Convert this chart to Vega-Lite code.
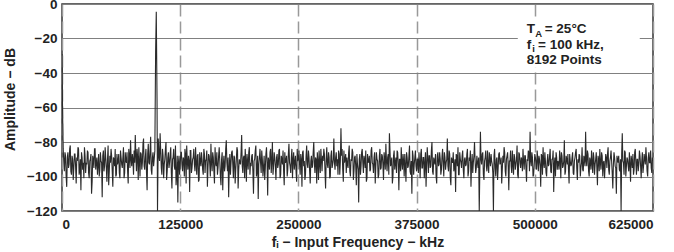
{
  "$schema": "https://vega.github.io/schema/vega-lite/v6.json",
  "width": 591,
  "height": 207,
  "autosize": {"type": "none"},
  "padding": {"left": 62, "top": 4, "right": 21, "bottom": 41},
  "background": "white",
  "config": {
    "view": {"stroke": "#333333", "strokeWidth": 1.5},
    "font": "Liberation Sans",
    "axis": {
      "labelFont": "Liberation Sans", "labelFontWeight": "bold", "labelFontSize": 13.5, "labelColor": "#222222",
      "titleFont": "Liberation Sans", "titleFontWeight": "bold", "titleFontSize": 14, "titleColor": "#222222",
      "domain": false, "ticks": false, "gridOpacity": 1
    },
    "axisX": {"gridDash": [12, 5], "gridColor": "#999999", "gridWidth": 1.5, "labelPadding": 6, "titlePadding": 5},
    "axisY": {"gridColor": "#808080", "gridWidth": 1, "labelPadding": 5, "titlePadding": 9}
  },
  "datasets": {
    "spectrum": [
      {"f":0,"a":-29},{"f":600,"a":-62},{"f":1250,"a":-84},{"f":2500,"a":-97},{"f":3750,"a":-88},{"f":5000,"a":-106},{"f":6250,"a":-86},{"f":7500,"a":-93},{"f":8750,"a":-82},{"f":10000,"a":-99},{"f":11250,"a":-90},{"f":12500,"a":-95},
      {"f":13750,"a":-87},{"f":15000,"a":-104},{"f":16250,"a":-91},{"f":17500,"a":-84},{"f":18750,"a":-96},{"f":20000,"a":-108},{"f":21250,"a":-89},{"f":22500,"a":-92},{"f":23750,"a":-83},{"f":25000,"a":-98},
      {"f":26250,"a":-93},{"f":27500,"a":-86},{"f":28750,"a":-101},{"f":30000,"a":-90},{"f":31250,"a":-110},{"f":32500,"a":-88},{"f":33750,"a":-95},{"f":35000,"a":-84},{"f":36250,"a":-92},{"f":37500,"a":-99},
      {"f":38750,"a":-87},{"f":40000,"a":-96},{"f":41250,"a":-91},{"f":42500,"a":-112},{"f":43750,"a":-85},{"f":45000,"a":-94},{"f":46250,"a":-89},{"f":47500,"a":-103},{"f":48750,"a":-82},{"f":50000,"a":-97},
      {"f":51250,"a":-92},{"f":52500,"a":-88},{"f":53750,"a":-106},{"f":55000,"a":-90},{"f":56250,"a":-84},{"f":57500,"a":-99},{"f":58750,"a":-93},{"f":60000,"a":-87},{"f":61250,"a":-101},{"f":62500,"a":-89},
      {"f":63750,"a":-95},{"f":65000,"a":-83},{"f":66250,"a":-98},{"f":67500,"a":-91},{"f":68750,"a":-86},{"f":70000,"a":-104},{"f":71250,"a":-88},{"f":72500,"a":-79},{"f":73750,"a":-94},{"f":75000,"a":-90},
      {"f":76250,"a":-85},{"f":77500,"a":-76},{"f":78750,"a":-97},{"f":80000,"a":-89},{"f":81250,"a":-83},{"f":82500,"a":-100},{"f":83750,"a":-87},{"f":85000,"a":-92},{"f":86250,"a":-78},{"f":87500,"a":-96},
      {"f":88750,"a":-84},{"f":90000,"a":-108},{"f":91250,"a":-81},{"f":92500,"a":-93},{"f":93750,"a":-77},{"f":95000,"a":-99},{"f":96250,"a":-86},{"f":97500,"a":-90},
      {"f":98200,"a":-85},{"f":99000,"a":-28},{"f":99700,"a":-4.5},{"f":100500,"a":-55},{"f":101000,"a":-120},{"f":101800,"a":-78},
      {"f":102500,"a":-88},{"f":103750,"a":-75},{"f":105000,"a":-95},{"f":106250,"a":-84},{"f":107500,"a":-101},{"f":108750,"a":-90},{"f":110000,"a":-80},{"f":111250,"a":-97},{"f":112500,"a":-86},
      {"f":113750,"a":-92},{"f":115000,"a":-83},{"f":116250,"a":-107},{"f":117500,"a":-89},{"f":118750,"a":-94},{"f":120000,"a":-82},{"f":121250,"a":-100},{"f":122500,"a":-115},{"f":123750,"a":-88},{"f":125000,"a":-93},
      {"f":126250,"a":-86},{"f":127500,"a":-97},{"f":128750,"a":-90},{"f":130000,"a":-84},{"f":131250,"a":-104},{"f":132500,"a":-91},{"f":133750,"a":-88},{"f":135000,"a":-109},{"f":136250,"a":-85},{"f":137500,"a":-95},
      {"f":138750,"a":-89},{"f":140000,"a":-93},{"f":141250,"a":-83},{"f":142500,"a":-99},{"f":143750,"a":-87},{"f":145000,"a":-102},{"f":146250,"a":-91},{"f":147500,"a":-86},{"f":148750,"a":-96},{"f":150000,"a":-84},
      {"f":151250,"a":-98},{"f":152500,"a":-90},{"f":153750,"a":-106},{"f":155000,"a":-87},{"f":156250,"a":-93},{"f":157500,"a":-81},{"f":158750,"a":-97},{"f":160000,"a":-89},{"f":161250,"a":-104},{"f":162500,"a":-92},
      {"f":163750,"a":-86},{"f":165000,"a":-95},{"f":166250,"a":-83},{"f":167500,"a":-100},{"f":168750,"a":-90},{"f":170000,"a":-108},{"f":171250,"a":-88},{"f":172500,"a":-94},{"f":173750,"a":-79},{"f":175000,"a":-97},
      {"f":176250,"a":-112},{"f":177500,"a":-87},{"f":178750,"a":-92},{"f":180000,"a":-85},{"f":181250,"a":-101},{"f":182500,"a":-89},{"f":183750,"a":-96},{"f":185000,"a":-83},{"f":186250,"a":-107},{"f":187500,"a":-90},
      {"f":188750,"a":-93},{"f":190000,"a":-76},{"f":191250,"a":-98},{"f":192500,"a":-88},{"f":193750,"a":-84},{"f":195000,"a":-103},{"f":196250,"a":-91},{"f":197500,"a":-86},{"f":198750,"a":-99},{"f":200000,"a":-94},
      {"f":201250,"a":-87},{"f":202500,"a":-110},{"f":203750,"a":-90},{"f":205000,"a":-82},{"f":206250,"a":-97},{"f":207500,"a":-113},{"f":208750,"a":-89},{"f":210000,"a":-92},{"f":211250,"a":-85},{"f":212500,"a":-100},
      {"f":213750,"a":-88},{"f":215000,"a":-95},{"f":216250,"a":-83},{"f":217500,"a":-111},{"f":218750,"a":-91},{"f":220000,"a":-86},{"f":221250,"a":-98},{"f":222500,"a":-80},{"f":223750,"a":-94},{"f":225000,"a":-89},
      {"f":226250,"a":-102},{"f":227500,"a":-87},{"f":228750,"a":-93},{"f":230000,"a":-84},{"f":231250,"a":-99},{"f":232500,"a":-90},{"f":233750,"a":-85},{"f":235000,"a":-105},{"f":236250,"a":-92},{"f":237500,"a":-88},
      {"f":238750,"a":-96},{"f":240000,"a":-81},{"f":241250,"a":-94},{"f":242500,"a":-89},{"f":243750,"a":-101},{"f":245000,"a":-86},{"f":246250,"a":-92},{"f":247500,"a":-97},{"f":248750,"a":-84},{"f":250000,"a":-90},
      {"f":251250,"a":-93},{"f":252500,"a":-87},{"f":253750,"a":-106},{"f":255000,"a":-85},{"f":256250,"a":-91},{"f":257500,"a":-99},{"f":258750,"a":-82},{"f":260000,"a":-95},{"f":261250,"a":-89},{"f":262500,"a":-104},
      {"f":263750,"a":-88},{"f":265000,"a":-94},{"f":266250,"a":-80},{"f":267500,"a":-98},{"f":268750,"a":-90},{"f":270000,"a":-86},{"f":271250,"a":-102},{"f":272500,"a":-92},{"f":273750,"a":-84},{"f":275000,"a":-97},
      {"f":276250,"a":-91},{"f":277500,"a":-87},{"f":278750,"a":-107},{"f":280000,"a":-83},{"f":281250,"a":-95},{"f":282500,"a":-89},{"f":283750,"a":-100},{"f":285000,"a":-85},{"f":286250,"a":-93},{"f":287500,"a":-78},
      {"f":288750,"a":-96},{"f":290000,"a":-86},{"f":291250,"a":-90},{"f":292500,"a":-85},{"f":293750,"a":-99},{"f":295000,"a":-72},{"f":296250,"a":-84},{"f":297500,"a":-103},{"f":298750,"a":-92},{"f":300000,"a":-87},
      {"f":301250,"a":-89},{"f":302500,"a":-95},{"f":303750,"a":-82},{"f":305000,"a":-100},{"f":306250,"a":-91},{"f":307500,"a":-86},{"f":308750,"a":-97},{"f":310000,"a":-88},{"f":311250,"a":-105},{"f":312500,"a":-93},
      {"f":313750,"a":-115},{"f":315000,"a":-87},{"f":316250,"a":-94},{"f":317500,"a":-84},{"f":318750,"a":-98},{"f":320000,"a":-90},{"f":321250,"a":-85},{"f":322500,"a":-101},{"f":323750,"a":-92},{"f":325000,"a":-88},
      {"f":326250,"a":-96},{"f":327500,"a":-83},{"f":328750,"a":-93},{"f":330000,"a":-89},{"f":331250,"a":-104},{"f":332500,"a":-86},{"f":333750,"a":-91},{"f":335000,"a":-99},{"f":336250,"a":-84},{"f":337500,"a":-95},
      {"f":338750,"a":-88},{"f":340000,"a":-102},{"f":341250,"a":-90},{"f":342500,"a":-81},{"f":343750,"a":-97},{"f":345000,"a":-87},{"f":346250,"a":-75},{"f":347500,"a":-94},{"f":348750,"a":-89},{"f":350000,"a":-100},
      {"f":351250,"a":-85},{"f":352500,"a":-92},{"f":353750,"a":-98},{"f":355000,"a":-86},{"f":356250,"a":-108},{"f":357500,"a":-90},{"f":358750,"a":-83},{"f":360000,"a":-96},{"f":361250,"a":-91},{"f":362500,"a":-87},
      {"f":363750,"a":-103},{"f":365000,"a":-89},{"f":366250,"a":-94},{"f":367500,"a":-82},{"f":368750,"a":-99},{"f":370000,"a":-110},{"f":371250,"a":-88},{"f":372500,"a":-93},{"f":373750,"a":-85},{"f":375000,"a":-97},
      {"f":376250,"a":-90},{"f":377500,"a":-86},{"f":378750,"a":-101},{"f":380000,"a":-84},{"f":381250,"a":-95},{"f":382500,"a":-89},{"f":383750,"a":-92},{"f":385000,"a":-106},{"f":386250,"a":-83},{"f":387500,"a":-98},
      {"f":388750,"a":-88},{"f":390000,"a":-94},{"f":391250,"a":-80},{"f":392500,"a":-99},{"f":393750,"a":-91},{"f":395000,"a":-87},{"f":396250,"a":-104},{"f":397500,"a":-86},{"f":398750,"a":-93},{"f":400000,"a":-90},
      {"f":401250,"a":-96},{"f":402500,"a":-84},{"f":403750,"a":-100},{"f":405000,"a":-89},{"f":406250,"a":-92},{"f":407500,"a":-78},{"f":408750,"a":-97},{"f":410000,"a":-87},{"f":411250,"a":-105},{"f":412500,"a":-91},
      {"f":413750,"a":-86},{"f":415000,"a":-94},{"f":416250,"a":-109},{"f":417500,"a":-88},{"f":418750,"a":-83},{"f":420000,"a":-99},{"f":421250,"a":-90},{"f":422500,"a":-95},{"f":423750,"a":-85},{"f":425000,"a":-101},
      {"f":426250,"a":-89},{"f":427500,"a":-93},{"f":428750,"a":-84},{"f":430000,"a":-97},{"f":431250,"a":-91},{"f":432500,"a":-106},{"f":433750,"a":-87},{"f":435000,"a":-92},{"f":436250,"a":-80},{"f":437500,"a":-98},
      {"f":438750,"a":-88},{"f":440000,"a":-95},{"f":441250,"a":-120},{"f":442500,"a":-74},{"f":443750,"a":-93},{"f":445000,"a":-86},{"f":446250,"a":-102},{"f":447500,"a":-89},{"f":448750,"a":-94},{"f":450000,"a":-85},
      {"f":451250,"a":-98},{"f":452500,"a":-90},{"f":453750,"a":-87},{"f":455000,"a":-93},{"f":456250,"a":-120},{"f":457500,"a":-84},{"f":458750,"a":-100},{"f":460000,"a":-89},{"f":461250,"a":-95},{"f":462500,"a":-86},
      {"f":463750,"a":-92},{"f":465000,"a":-104},{"f":466250,"a":-88},{"f":467500,"a":-83},{"f":468750,"a":-97},{"f":470000,"a":-90},{"f":471250,"a":-86},{"f":472500,"a":-108},{"f":473750,"a":-91},{"f":475000,"a":-94},
      {"f":476250,"a":-85},{"f":477500,"a":-99},{"f":478750,"a":-89},{"f":480000,"a":-93},{"f":481250,"a":-82},{"f":482500,"a":-101},{"f":483750,"a":-87},{"f":485000,"a":-95},{"f":486250,"a":-90},{"f":487500,"a":-84},
      {"f":488750,"a":-96},{"f":490000,"a":-88},{"f":491250,"a":-103},{"f":492500,"a":-91},{"f":493750,"a":-86},{"f":495000,"a":-74},{"f":496250,"a":-94},{"f":497500,"a":-89},{"f":498750,"a":-99},{"f":500000,"a":-87},
      {"f":501250,"a":-92},{"f":502500,"a":-85},{"f":503750,"a":-97},{"f":505000,"a":-90},{"f":506250,"a":-106},{"f":507500,"a":-88},{"f":508750,"a":-83},{"f":510000,"a":-95},{"f":511250,"a":-91},{"f":512500,"a":-100},
      {"f":513750,"a":-87},{"f":515000,"a":-93},{"f":516250,"a":-84},{"f":517500,"a":-98},{"f":518750,"a":-90},{"f":520000,"a":-109},{"f":521250,"a":-89},{"f":522500,"a":-86},{"f":523750,"a":-96},{"f":525000,"a":-92},
      {"f":526250,"a":-85},{"f":527500,"a":-101},{"f":528750,"a":-88},{"f":530000,"a":-94},{"f":531250,"a":-79},{"f":532500,"a":-97},{"f":533750,"a":-90},{"f":535000,"a":-87},{"f":536250,"a":-104},{"f":537500,"a":-91},
      {"f":538750,"a":-93},{"f":540000,"a":-86},{"f":541250,"a":-99},{"f":542500,"a":-89},{"f":543750,"a":-84},{"f":545000,"a":-102},{"f":546250,"a":-92},{"f":547500,"a":-88},{"f":548750,"a":-95},{"f":550000,"a":-83},
      {"f":551250,"a":-97},{"f":552500,"a":-90},{"f":553750,"a":-74},{"f":555000,"a":-94},{"f":556250,"a":-87},{"f":557500,"a":-100},{"f":558750,"a":-91},{"f":560000,"a":-85},{"f":561250,"a":-98},{"f":562500,"a":-89},
      {"f":563750,"a":-93},{"f":565000,"a":-86},{"f":566250,"a":-105},{"f":567500,"a":-90},{"f":568750,"a":-84},{"f":570000,"a":-96},{"f":571250,"a":-88},{"f":572500,"a":-92},{"f":573750,"a":-101},{"f":575000,"a":-87},
      {"f":576250,"a":-95},{"f":577500,"a":-83},{"f":578750,"a":-99},{"f":580000,"a":-89},{"f":581250,"a":-91},{"f":582500,"a":-107},{"f":583750,"a":-86},{"f":585000,"a":-94},{"f":586250,"a":-110},{"f":587500,"a":-90},
      {"f":588750,"a":-88},{"f":590000,"a":-97},{"f":591250,"a":-120},{"f":592500,"a":-75},{"f":593750,"a":-92},{"f":595000,"a":-85},{"f":596250,"a":-100},{"f":597500,"a":-89},{"f":598750,"a":-94},{"f":600000,"a":-86},
      {"f":601250,"a":-103},{"f":602500,"a":-91},{"f":603750,"a":-87},{"f":605000,"a":-96},{"f":606250,"a":-84},{"f":607500,"a":-99},{"f":608750,"a":-90},{"f":610000,"a":-93},{"f":611250,"a":-88},{"f":612500,"a":-101},
      {"f":613750,"a":-86},{"f":615000,"a":-94},{"f":616250,"a":-90},{"f":617500,"a":-83},{"f":618750,"a":-97},{"f":620000,"a":-89},{"f":621250,"a":-92},{"f":622500,"a":-85},{"f":623750,"a":-98},{"f":625000,"a":-91},
      {"f":1875,"a":-91},{"f":3125,"a":-86},{"f":4375,"a":-100},{"f":5625,"a":-89},{"f":6875,"a":-95},{"f":8125,"a":-84},{"f":9375,"a":-97},{"f":10625,"a":-88},{"f":11875,"a":-102},{"f":13125,"a":-87},
      {"f":14375,"a":-94},{"f":15625,"a":-89},{"f":16875,"a":-83},{"f":18125,"a":-99},{"f":19375,"a":-90},{"f":20625,"a":-86},{"f":21875,"a":-96},{"f":23125,"a":-101},{"f":24375,"a":-88},{"f":25625,"a":-92},
      {"f":26875,"a":-85},{"f":28125,"a":-98},{"f":29375,"a":-91},{"f":30625,"a":-87},{"f":31875,"a":-103},{"f":33125,"a":-90},{"f":34375,"a":-84},{"f":35625,"a":-96},{"f":36875,"a":-89},{"f":38125,"a":-93},
      {"f":39375,"a":-100},{"f":40625,"a":-86},{"f":41875,"a":-92},{"f":43125,"a":-88},{"f":44375,"a":-97},{"f":45625,"a":-83},{"f":46875,"a":-95},{"f":48125,"a":-90},{"f":49375,"a":-105},{"f":50625,"a":-88},
      {"f":51875,"a":-84},{"f":53125,"a":-97},{"f":54375,"a":-89},{"f":55625,"a":-94},{"f":56875,"a":-100},{"f":58125,"a":-87},{"f":59375,"a":-91},{"f":60625,"a":-98},{"f":61875,"a":-85},{"f":63125,"a":-93},
      {"f":64375,"a":-89},{"f":65625,"a":-101},{"f":66875,"a":-86},{"f":68125,"a":-92},{"f":69375,"a":-97},{"f":70625,"a":-84},{"f":71875,"a":-95},{"f":73125,"a":-90},{"f":74375,"a":-87},{"f":75625,"a":-99},
      {"f":76875,"a":-92},{"f":78125,"a":-88},{"f":79375,"a":-84},{"f":80625,"a":-102},{"f":81875,"a":-91},{"f":83125,"a":-86},{"f":84375,"a":-96},{"f":85625,"a":-81},{"f":86875,"a":-94},{"f":88125,"a":-89},
      {"f":89375,"a":-98},{"f":90625,"a":-87},{"f":91875,"a":-92},{"f":93125,"a":-85},{"f":94375,"a":-96},{"f":95625,"a":-89},{"f":96875,"a":-94},
      {"f":103125,"a":-91},{"f":104375,"a":-85},{"f":105625,"a":-99},{"f":106875,"a":-88},{"f":108125,"a":-93},{"f":109375,"a":-84},{"f":110625,"a":-102},{"f":111875,"a":-89},{"f":113125,"a":-95},
      {"f":114375,"a":-87},{"f":115625,"a":-98},{"f":116875,"a":-90},{"f":118125,"a":-84},{"f":119375,"a":-96},{"f":120625,"a":-105},{"f":121875,"a":-88},{"f":123125,"a":-92},{"f":124375,"a":-99},{"f":125625,"a":-86},
      {"f":126875,"a":-93},{"f":128125,"a":-89},{"f":129375,"a":-100},{"f":130625,"a":-87},{"f":131875,"a":-82},{"f":133125,"a":-96},{"f":134375,"a":-91},{"f":135625,"a":-85},{"f":136875,"a":-98},{"f":138125,"a":-90},
      {"f":139375,"a":-84},{"f":140625,"a":-97},{"f":141875,"a":-92},{"f":143125,"a":-88},{"f":144375,"a":-103},{"f":145625,"a":-86},{"f":146875,"a":-94},{"f":148125,"a":-90},{"f":149375,"a":-99},{"f":150625,"a":-87},
      {"f":151875,"a":-91},{"f":153125,"a":-85},{"f":154375,"a":-95},{"f":155625,"a":-88},{"f":156875,"a":-100},{"f":158125,"a":-92},{"f":159375,"a":-86},{"f":160625,"a":-97},{"f":161875,"a":-83},{"f":163125,"a":-94},
      {"f":164375,"a":-99},{"f":165625,"a":-88},{"f":166875,"a":-91},{"f":168125,"a":-105},{"f":169375,"a":-86},{"f":170625,"a":-93},{"f":171875,"a":-97},{"f":173125,"a":-84},{"f":174375,"a":-92},{"f":175625,"a":-89},
      {"f":176875,"a":-95},{"f":178125,"a":-99},{"f":179375,"a":-86},{"f":180625,"a":-93},{"f":181875,"a":-88},{"f":183125,"a":-104},{"f":184375,"a":-90},{"f":185625,"a":-85},{"f":186875,"a":-96},{"f":188125,"a":-92},
      {"f":189375,"a":-86},{"f":190625,"a":-94},{"f":191875,"a":-89},{"f":193125,"a":-101},{"f":194375,"a":-91},{"f":195625,"a":-87},{"f":196875,"a":-96},{"f":198125,"a":-83},{"f":199375,"a":-92},{"f":200625,"a":-88},
      {"f":201875,"a":-97},{"f":203125,"a":-91},{"f":204375,"a":-85},{"f":205625,"a":-100},{"f":206875,"a":-88},{"f":208125,"a":-93},{"f":209375,"a":-84},{"f":210625,"a":-98},{"f":211875,"a":-90},{"f":213125,"a":-95},
      {"f":214375,"a":-102},{"f":215625,"a":-87},{"f":216875,"a":-92},{"f":218125,"a":-89},{"f":219375,"a":-96},{"f":220625,"a":-84},{"f":221875,"a":-91},{"f":223125,"a":-99},{"f":224375,"a":-86},{"f":225625,"a":-94},
      {"f":226875,"a":-89},{"f":228125,"a":-95},{"f":229375,"a":-85},{"f":230625,"a":-101},{"f":231875,"a":-88},{"f":233125,"a":-93},{"f":234375,"a":-97},{"f":235625,"a":-86},{"f":236875,"a":-91},{"f":238125,"a":-100},
      {"f":239375,"a":-87},{"f":240625,"a":-92},{"f":241875,"a":-98},{"f":243125,"a":-84},{"f":244375,"a":-90},{"f":245625,"a":-96},{"f":246875,"a":-88},{"f":248125,"a":-103},{"f":249375,"a":-91},{"f":250625,"a":-85},
      {"f":251875,"a":-99},{"f":253125,"a":-90},{"f":254375,"a":-86},{"f":255625,"a":-94},{"f":256875,"a":-102},{"f":258125,"a":-88},{"f":259375,"a":-93},{"f":260625,"a":-85},{"f":261875,"a":-97},{"f":263125,"a":-91},
      {"f":264375,"a":-95},{"f":265625,"a":-86},{"f":266875,"a":-92},{"f":268125,"a":-89},{"f":269375,"a":-104},{"f":270625,"a":-91},{"f":271875,"a":-85},{"f":273125,"a":-98},{"f":274375,"a":-90},{"f":275625,"a":-88},
      {"f":276875,"a":-84},{"f":278125,"a":-97},{"f":279375,"a":-90},{"f":280625,"a":-93},{"f":281875,"a":-86},{"f":283125,"a":-101},{"f":284375,"a":-88},{"f":285625,"a":-95},{"f":286875,"a":-90},{"f":288125,"a":-92},
      {"f":289375,"a":-89},{"f":290625,"a":-94},{"f":291875,"a":-99},{"f":293125,"a":-87},{"f":294375,"a":-91},{"f":295625,"a":-88},{"f":296875,"a":-96},{"f":298125,"a":-85},{"f":299375,"a":-90},{"f":300625,"a":-98},
      {"f":301875,"a":-93},{"f":303125,"a":-86},{"f":304375,"a":-97},{"f":305625,"a":-90},{"f":306875,"a":-84},{"f":308125,"a":-102},{"f":309375,"a":-89},{"f":310625,"a":-94},{"f":311875,"a":-87},{"f":313125,"a":-96},
      {"f":314375,"a":-90},{"f":315625,"a":-99},{"f":316875,"a":-86},{"f":318125,"a":-92},{"f":319375,"a":-88},{"f":320625,"a":-95},{"f":321875,"a":-103},{"f":323125,"a":-87},{"f":324375,"a":-91},{"f":325625,"a":-97},
      {"f":326875,"a":-85},{"f":328125,"a":-92},{"f":329375,"a":-98},{"f":330625,"a":-86},{"f":331875,"a":-94},{"f":333125,"a":-90},{"f":334375,"a":-101},{"f":335625,"a":-88},{"f":336875,"a":-96},{"f":338125,"a":-87},
      {"f":339375,"a":-93},{"f":340625,"a":-86},{"f":341875,"a":-96},{"f":343125,"a":-91},{"f":344375,"a":-89},{"f":345625,"a":-99},{"f":346875,"a":-85},{"f":348125,"a":-92},{"f":349375,"a":-104},{"f":350625,"a":-88},
      {"f":351875,"a":-96},{"f":353125,"a":-89},{"f":354375,"a":-85},{"f":355625,"a":-93},{"f":356875,"a":-90},{"f":358125,"a":-97},{"f":359375,"a":-92},{"f":360625,"a":-87},{"f":361875,"a":-100},{"f":363125,"a":-94},
      {"f":364375,"a":-86},{"f":365625,"a":-95},{"f":366875,"a":-88},{"f":368125,"a":-97},{"f":369375,"a":-91},{"f":370625,"a":-85},{"f":371875,"a":-99},{"f":373125,"a":-89},{"f":374375,"a":-94},{"f":375625,"a":-90},
      {"f":376875,"a":-98},{"f":378125,"a":-92},{"f":379375,"a":-87},{"f":380625,"a":-95},{"f":381875,"a":-89},{"f":383125,"a":-101},{"f":384375,"a":-86},{"f":385625,"a":-93},{"f":386875,"a":-90},{"f":388125,"a":-88},
      {"f":389375,"a":-95},{"f":390625,"a":-85},{"f":391875,"a":-97},{"f":393125,"a":-89},{"f":394375,"a":-93},{"f":395625,"a":-100},{"f":396875,"a":-88},{"f":398125,"a":-94},{"f":399375,"a":-86},{"f":400625,"a":-99},
      {"f":401875,"a":-88},{"f":403125,"a":-93},{"f":404375,"a":-86},{"f":405625,"a":-96},{"f":406875,"a":-90},{"f":408125,"a":-94},{"f":409375,"a":-85},{"f":410625,"a":-101},{"f":411875,"a":-89},{"f":413125,"a":-92},
      {"f":414375,"a":-97},{"f":415625,"a":-90},{"f":416875,"a":-87},{"f":418125,"a":-94},{"f":419375,"a":-99},{"f":420625,"a":-86},{"f":421875,"a":-92},{"f":423125,"a":-88},{"f":424375,"a":-96},{"f":425625,"a":-90},
      {"f":426875,"a":-94},{"f":428125,"a":-87},{"f":429375,"a":-100},{"f":430625,"a":-89},{"f":431875,"a":-85},{"f":433125,"a":-93},{"f":434375,"a":-98},{"f":435625,"a":-88},{"f":436875,"a":-91},{"f":438125,"a":-95},
      {"f":439375,"a":-92},{"f":440625,"a":-89},{"f":441875,"a":-96},{"f":443125,"a":-90},{"f":444375,"a":-87},{"f":445625,"a":-99},{"f":446875,"a":-91},{"f":448125,"a":-85},{"f":449375,"a":-97},{"f":450625,"a":-93},
      {"f":451875,"a":-86},{"f":453125,"a":-94},{"f":454375,"a":-91},{"f":455625,"a":-98},{"f":456875,"a":-88},{"f":458125,"a":-95},{"f":459375,"a":-90},{"f":460625,"a":-102},{"f":461875,"a":-87},{"f":463125,"a":-93},
      {"f":464375,"a":-89},{"f":465625,"a":-96},{"f":466875,"a":-92},{"f":468125,"a":-86},{"f":469375,"a":-100},{"f":470625,"a":-88},{"f":471875,"a":-94},{"f":473125,"a":-91},{"f":474375,"a":-85},{"f":475625,"a":-98},
      {"f":476875,"a":-93},{"f":478125,"a":-87},{"f":479375,"a":-96},{"f":480625,"a":-90},{"f":481875,"a":-99},{"f":483125,"a":-86},{"f":484375,"a":-92},{"f":485625,"a":-89},{"f":486875,"a":-97},{"f":488125,"a":-91},
      {"f":489375,"a":-88},{"f":490625,"a":-95},{"f":491875,"a":-90},{"f":493125,"a":-85},{"f":494375,"a":-97},{"f":495625,"a":-91},{"f":496875,"a":-86},{"f":498125,"a":-100},{"f":499375,"a":-93},{"f":500625,"a":-89},
      {"f":501875,"a":-96},{"f":503125,"a":-90},{"f":504375,"a":-88},{"f":505625,"a":-94},{"f":506875,"a":-87},{"f":508125,"a":-99},{"f":509375,"a":-92},{"f":510625,"a":-86},{"f":511875,"a":-98},{"f":513125,"a":-91},
      {"f":514375,"a":-94},{"f":515625,"a":-88},{"f":516875,"a":-97},{"f":518125,"a":-90},{"f":519375,"a":-85},{"f":520625,"a":-93},{"f":521875,"a":-100},{"f":523125,"a":-89},{"f":524375,"a":-91},{"f":525625,"a":-96},
      {"f":526875,"a":-90},{"f":528125,"a":-86},{"f":529375,"a":-95},{"f":530625,"a":-91},{"f":531875,"a":-99},{"f":533125,"a":-88},{"f":534375,"a":-93},{"f":535625,"a":-96},{"f":536875,"a":-87},{"f":538125,"a":-94},
      {"f":539375,"a":-89},{"f":540625,"a":-98},{"f":541875,"a":-91},{"f":543125,"a":-86},{"f":544375,"a":-95},{"f":545625,"a":-90},{"f":546875,"a":-87},{"f":548125,"a":-100},{"f":549375,"a":-92},{"f":550625,"a":-96},
      {"f":551875,"a":-88},{"f":553125,"a":-94},{"f":554375,"a":-91},{"f":555625,"a":-85},{"f":556875,"a":-97},{"f":558125,"a":-89},{"f":559375,"a":-96},{"f":560625,"a":-92},{"f":561875,"a":-86},{"f":563125,"a":-99},
      {"f":564375,"a":-90},{"f":565625,"a":-95},{"f":566875,"a":-88},{"f":568125,"a":-97},{"f":569375,"a":-92},{"f":570625,"a":-86},{"f":571875,"a":-100},{"f":573125,"a":-91},{"f":574375,"a":-94},{"f":575625,"a":-89},
      {"f":576875,"a":-87},{"f":578125,"a":-96},{"f":579375,"a":-91},{"f":580625,"a":-85},{"f":581875,"a":-98},{"f":583125,"a":-93},{"f":584375,"a":-89},{"f":585625,"a":-95},{"f":586875,"a":-88},{"f":588125,"a":-92},
      {"f":589375,"a":-96},{"f":590625,"a":-90},{"f":591875,"a":-87},{"f":593125,"a":-91},{"f":594375,"a":-99},{"f":595625,"a":-86},{"f":596875,"a":-94},{"f":598125,"a":-90},{"f":599375,"a":-97},{"f":600625,"a":-93},
      {"f":601875,"a":-88},{"f":603125,"a":-95},{"f":604375,"a":-99},{"f":605625,"a":-86},{"f":606875,"a":-92},{"f":608125,"a":-90},{"f":609375,"a":-97},{"f":610625,"a":-85},{"f":611875,"a":-94},{"f":613125,"a":-91},
      {"f":614375,"a":-98},{"f":615625,"a":-87},{"f":616875,"a":-93},{"f":618125,"a":-89},{"f":619375,"a":-100},{"f":620625,"a":-86},{"f":621875,"a":-92},{"f":623125,"a":-95},{"f":624375,"a":-89}
    ],
    "box": [{"f": 482000, "f2": 611000, "a": -7.5, "a2": -37}],
    "notes": [
      {"f": 491500, "a": -17.1, "t": "T"},
      {"f": 510500, "a": -17.1, "t": "= 25°C"},
      {"f": 491500, "a": -25.8, "t": "f"},
      {"f": 503500, "a": -25.8, "t": "= 100 kHz,"},
      {"f": 491500, "a": -34.5, "t": "8192 Points"}
    ],
    "subs": [
      {"f": 500600, "a": -19.2, "t": "A"},
      {"f": 497300, "a": -27.9, "t": "i"}
    ]
  },
  "encoding": {
    "x": {
      "field": "f", "type": "quantitative",
      "scale": {"domain": [0, 625000], "nice": false, "zero": false},
      "axis": {"values": [0, 125000, 250000, 375000, 500000, 625000], "format": "d", "title": "fᵢ − Input Frequency − kHz"}
    },
    "y": {
      "field": "a", "type": "quantitative",
      "scale": {"domain": [-120, 0], "nice": false, "zero": false},
      "axis": {"values": [-120, -100, -80, -60, -40, -20, 0], "title": "Amplitude − dB", "titleY": 95}
    }
  },
  "layer": [
    {
      "data": {"name": "spectrum"},
      "mark": {"type": "line", "color": "#2a2a2a", "strokeWidth": 1.1, "clip": true, "interpolate": "linear"}
    },
    {
      "data": {"name": "box"},
      "mark": {"type": "rect", "fill": "white", "stroke": null},
      "encoding": {"x2": {"field": "f2"}, "y2": {"field": "a2"}}
    },
    {
      "data": {"name": "notes"},
      "mark": {"type": "text", "align": "left", "baseline": "alphabetic", "font": "Liberation Sans", "fontWeight": "bold", "fontSize": 13.5, "color": "#222222"},
      "encoding": {"text": {"field": "t"}}
    },
    {
      "data": {"name": "subs"},
      "mark": {"type": "text", "align": "left", "baseline": "alphabetic", "font": "Liberation Sans", "fontWeight": "bold", "fontSize": 9.5, "color": "#222222"},
      "encoding": {"text": {"field": "t"}}
    }
  ]
}
